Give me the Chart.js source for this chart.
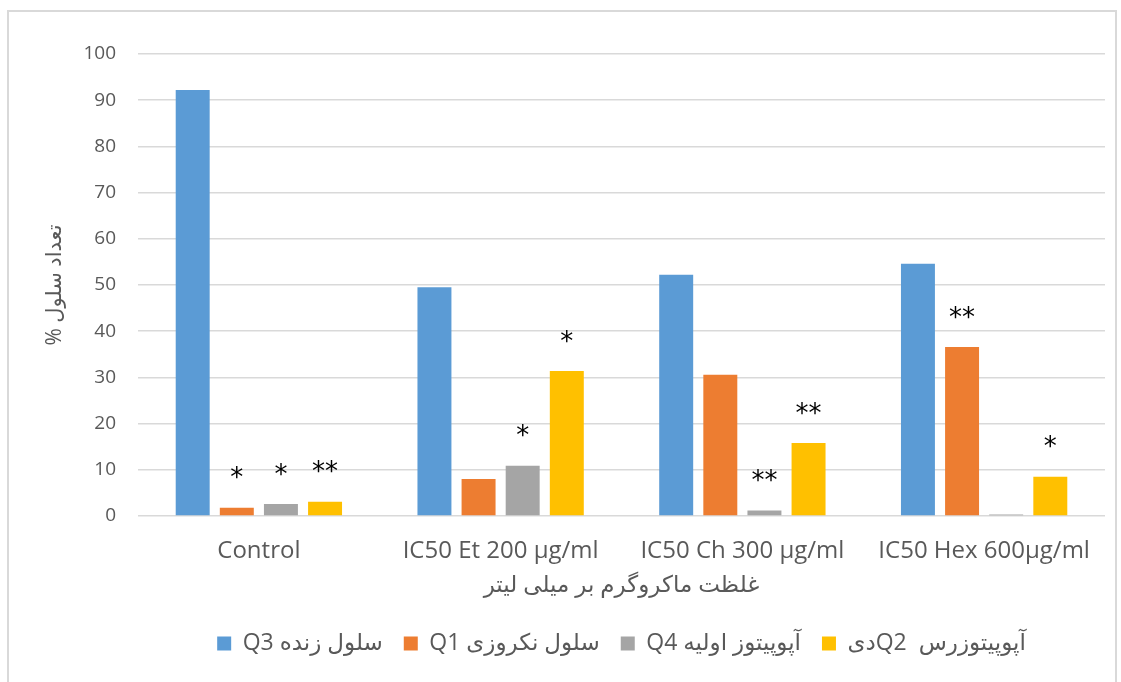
<!DOCTYPE html>
<html>
<head>
<meta charset="utf-8">
<script src="https://cdn.jsdelivr.net/npm/chart.js@4"></script>
<style>
    body { margin: 0; background: #fff; }
    #frame { position: absolute; left: 7px; top: 10px; width: 1106px; height: 700px; border: 2px solid #d9d9d9; }
    #wrap { position: absolute; left: 0; top: 0; width: 1121px; height: 682px; }
</style>
</head>
<body>
<div id="frame"></div>
<div id="wrap"><canvas id="chart1"></canvas></div>
<script>
const categories = ['Control', 'IC50 Et 200 µg/ml', 'IC50 Ch 300 µg/ml', 'IC50 Hex 600µg/ml']
const seriesNames = ['Q3 سلول زنده', 'Q1 سلول نکروزی', 'Q4 آپوپیتوز اولیه', 'دیQ2  آپوپیتوزرس']

const q3Values = [92.2, 49.5, 52.2, 54.6]
const q1Values = [1.8, 8.0, 30.6, 36.6]
const q4Values = [2.6, 10.9, 1.2, 0.3]
const q2Values = [3.1, 31.4, 15.8, 8.5]

// significance marks above each bar
const q3Marks = ['', '', '', '']
const q1Marks = ['*', '', '', '**']
const q4Marks = ['*', '*', '**', '']
const q2Marks = ['**', '*', '**', '*']

const yTicks = [0, 10, 20, 30, 40, 50, 60, 70, 80, 90, 100]

const colors = ['#5B9BD5', '#ED7D31', '#A5A5A5', '#FFC000']
const allValues = [q3Values, q1Values, q4Values, q2Values]
const allMarks = [q3Marks, q1Marks, q4Marks, q2Marks]

const textFont = '"Open Sans", "DejaVu Sans", sans-serif'

const starsPlugin = {
    id: 'stars',
    afterDatasetsDraw(chart) {
        const ctx = chart.ctx
        ctx.save()
        ctx.fillStyle = '#000'
        ctx.font = '26px "DejaVu Sans"'
        ctx.textAlign = 'center'
        ctx.textBaseline = 'middle'
        chart.data.datasets.forEach((ds, i) => {
            chart.getDatasetMeta(i).data.forEach((bar, j) => {
                const mark = allMarks[i][j]
                if (mark) ctx.fillText(mark, bar.x, bar.y - 28)
            })
        })
        ctx.restore()
    }
}

const data = {
    labels: categories,
    datasets: allValues.map((values, i) => ({
        label: seriesNames[i],
        data: values,
        backgroundColor: colors[i],
        barPercentage: 0.77,
        categoryPercentage: 0.73
    }))
}

const options = {
    responsive: false,
    animation: false,
    layout: { padding: { top: 54, right: 16, bottom: 17, left: 0 } },
    plugins: {
        legend: {
            position: 'bottom',
            fullSize: false,
            labels: {
                boxWidth: 14,
                boxHeight: 14,
                padding: 21,
                color: '#595959',
                font: { family: textFont, size: 23 }
            }
        },
        tooltip: { enabled: false }
    },
    scales: {
        x: {
            grid: { display: false },
            border: { display: false },
            ticks: {
                color: '#595959',
                padding: 13,
                font: { family: textFont, size: 24 }
            },
            title: {
                display: true,
                text: 'غلظت ماکروگرم بر میلی لیتر',
                color: '#595959',
                font: { family: textFont, size: 23 },
                padding: { top: 0, bottom: 12 }
            },
            afterFit(scale) { scale.height = 95 }
        },
        y: {
            min: 0,
            max: 100,
            afterBuildTicks(scale) { scale.ticks = yTicks.map(v => ({ value: v })) },
            grid: { color: '#d9d9d9', lineWidth: 1.5, drawTicks: false },
            border: { display: false },
            ticks: {
                color: '#595959',
                padding: 22,
                font: { family: textFont, size: 19 }
            },
            title: {
                display: true,
                text: '% تعداد سلول',
                color: '#595959',
                font: { family: textFont, size: 21 },
                padding: { top: 42, bottom: 0 }
            },
            afterFit(scale) { scale.width = 138 }
        }
    }
}

const canvas = document.getElementById('chart1')
canvas.width = 1121
canvas.height = 682
new Chart(canvas, { type: 'bar', data, options, plugins: [starsPlugin] })
</script>
</body>
</html>
